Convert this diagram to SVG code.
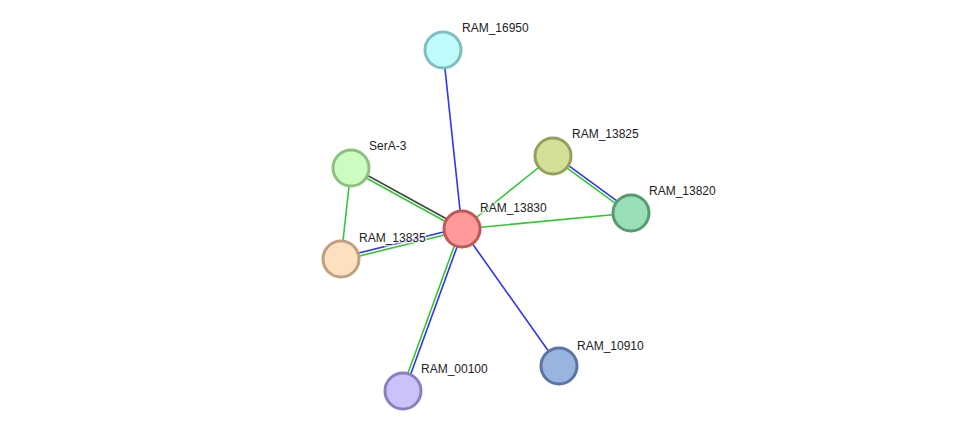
<svg xmlns="http://www.w3.org/2000/svg" width="976" height="436" viewBox="0 0 976 436">
<style>
.e{stroke-width:1.6;fill:none}
.g{stroke:#33c633}.b{stroke:#3333ee}.k{stroke:#444}
.n{stroke-width:3}
text{font-family:"Liberation Sans",Arial,sans-serif;font-size:12px;fill:#222;stroke:#fff;stroke-width:3;stroke-opacity:0.7;paint-order:stroke}
</style>
<rect width="976" height="436" fill="#fff"/>
<g id="edges">
<line class="e b" x1="443" y1="50" x2="462" y2="229"/>
<line class="e g" x1="553" y1="156" x2="462" y2="229"/>
<line class="e g" x1="631" y1="213" x2="462" y2="229"/>
<line class="e b" x1="559" y1="366" x2="462" y2="229"/>
<line class="e g" x1="351" y1="168" x2="341" y2="259"/>
<line class="e k" x1="351.7" y1="166.7" x2="462.7" y2="227.7"/>
<line class="e g" x1="350.3" y1="169.3" x2="461.3" y2="230.3"/>
<line class="e b" x1="340.6" y1="257.5" x2="461.6" y2="227.5"/>
<line class="e g" x1="341.4" y1="260.5" x2="462.4" y2="230.5"/>
<line class="e b" x1="553.9" y1="154.8" x2="631.9" y2="211.8"/>
<line class="e g" x1="552.1" y1="157.2" x2="630.1" y2="214.2"/>
<line class="e b" x1="404.4" y1="391.5" x2="463.4" y2="229.5"/>
<line class="e g" x1="401.6" y1="390.5" x2="460.6" y2="228.5"/>
</g>
<g id="RAM_16950"><circle class="n" cx="443" cy="50" r="18" fill="#c0fcfc" stroke="#7ebfbf"/><text x="462" y="32">RAM_16950</text></g>
<g id="SerA-3"><circle class="n" cx="351" cy="168" r="18" fill="#ccfcc0" stroke="#8cbf80"/><text x="369" y="150">SerA-3</text></g>
<g id="RAM_13825"><circle class="n" cx="553" cy="156" r="18" fill="#d4df98" stroke="#94a05c"/><text x="572" y="138">RAM_13825</text></g>
<g id="RAM_13820"><circle class="n" cx="631" cy="213" r="18" fill="#99e0b8" stroke="#5a9a70"/><text x="649" y="195">RAM_13820</text></g>
<g id="RAM_13830"><circle class="n" cx="462" cy="229" r="18" fill="#ff9a9a" stroke="#c05858"/><text x="480" y="212">RAM_13830</text></g>
<g id="RAM_13835"><circle class="n" cx="341" cy="259" r="18" fill="#fde0c0" stroke="#c0a07e"/><text x="359" y="242">RAM_13835</text></g>
<g id="RAM_00100"><circle class="n" cx="403" cy="391" r="18" fill="#cbc2f9" stroke="#8a80c0"/><text x="421" y="373">RAM_00100</text></g>
<g id="RAM_10910"><circle class="n" cx="559" cy="366" r="18" fill="#9ab4e0" stroke="#5a74a4"/><text x="577" y="350">RAM_10910</text></g>
</svg>
